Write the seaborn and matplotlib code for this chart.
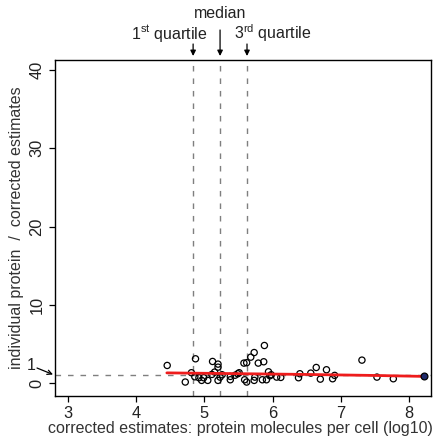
import matplotlib
matplotlib.use("Agg")
import matplotlib.pyplot as plt
import seaborn as sns
import pandas as pd
from matplotlib.transforms import blended_transform_factory

# ---- data ----
x_vals = [4.455, 4.72, 4.81, 4.87, 4.86, 4.92, 4.96, 4.99, 5.05, 5.11, 5.12, 5.15,
          5.20, 5.20, 5.20, 5.23, 5.26, 5.38, 5.38, 5.45, 5.49, 5.51, 5.59, 5.58,
          5.62, 5.62, 5.68, 5.73, 5.73, 5.74, 5.79, 5.85, 5.87, 5.88, 5.91, 5.94,
          5.96, 5.98, 6.06, 6.12, 6.38, 6.40, 6.56, 6.64, 6.70, 6.79, 6.88, 6.91,
          7.31, 7.53, 7.77]
y_vals = [2.25, 0.13, 1.32, 3.10, 0.80, 0.68, 0.34, 0.68, 0.34, 1.10, 2.76, 1.40,
          2.42, 2.03, 0.34, 0.76, 1.06, 0.42, 0.85, 1.00, 1.19, 1.32, 0.42, 2.55,
          2.60, 0.13, 3.31, 3.90, 0.34, 0.76, 2.55, 0.42, 2.72, 4.80, 0.42, 1.44,
          0.93, 1.06, 0.76, 0.72, 0.68, 1.19, 1.27, 1.99, 0.50, 1.70, 0.55, 0.98,
          2.93, 0.76, 0.55]
highlight_x = [8.22]
highlight_y = [0.85]

fit_x = [4.45, 5.5, 6.5, 7.5, 8.22]
fit_y = [1.30, 1.20, 1.10, 0.97, 0.85]

quartile_x = [4.835, 5.23, 5.625]   # 1st quartile, median, 3rd quartile
ref_y = 1

x_ticks = [3, 4, 5, 6, 7, 8]
y_ticks = [0, 10, 20, 30, 40]

xlabel = "corrected estimates: protein molecules per cell (log10)"
ylabel = "individual protein  /  corrected estimates"

# ---- style ----
sns.set_style("ticks")
plt.rcParams["font.family"] = ["Liberation Sans", "DejaVu Sans"]
plt.rcParams["mathtext.fontset"] = "custom"
plt.rcParams["mathtext.rm"] = "Liberation Sans"
plt.rcParams["mathtext.it"] = "Liberation Sans"

fig = plt.figure(figsize=(4.33, 4.47), dpi=100)
ax = fig.add_axes([0.127, 0.114, 0.868, 0.752])

df = pd.DataFrame({"x": x_vals, "y": y_vals})
dfh = pd.DataFrame({"x": highlight_x, "y": highlight_y})
dff = pd.DataFrame({"x": fit_x, "y": fit_y})

dash = (0, (4, 5))
for q in quartile_x:
    ax.axvline(q, color="#7f7f7f", lw=1, ls=dash, zorder=1)
ax.axhline(ref_y, color="#7f7f7f", lw=1, ls=dash, zorder=1)

sns.scatterplot(data=df, x="x", y="y", ax=ax, marker="o", s=20,
                facecolor="none", edgecolor="black", linewidth=0.9, zorder=3)
sns.lineplot(data=dff, x="x", y="y", ax=ax, color="#ee1c1c", lw=2, zorder=4,
             estimator=None, sort=False)
sns.scatterplot(data=dfh, x="x", y="y", ax=ax, marker="o", s=24,
                color="#1f2a6b", edgecolor="black", linewidth=0.9, zorder=5)

ax.set_xlim(2.81, 8.32)
ax.set_ylim(-1.66, 41.3)
ax.set_xticks(x_ticks)
ax.set_yticks(y_ticks)
ax.set_xticklabels([str(t) for t in x_ticks])
ax.set_yticklabels([str(t) for t in y_ticks], rotation=90, va="center")
ax.tick_params(axis="both", labelsize=11.8, length=4.5, width=0.9, pad=3,
               color="black", labelcolor="#222222")
ax.set_xlabel("")
ax.set_ylabel("")
for s in ax.spines.values():
    s.set_linewidth(1.0)
    s.set_color("black")

fs = 11.5
fig.text(240 / 433, 1 - 428 / 447, xlabel, ha="center", va="center",
         fontsize=fs, color="#333333")
fig.text(17 / 433, 1 - 228 / 447, ylabel, ha="center", va="center",
         rotation=90, fontsize=fs, color="#333333")

def ypix(p):
    return 1 - p / 447

bt = blended_transform_factory(ax.transData, fig.transFigure)
arrow_kw = dict(arrowstyle="-|>", color="black", lw=0.9,
                mutation_scale=8, shrinkA=0, shrinkB=0)

ax.annotate("", xy=(quartile_x[1], ypix(56)), xytext=(quartile_x[1], ypix(30)),
            xycoords=bt, textcoords=bt, arrowprops=arrow_kw,
            annotation_clip=False)
for q in (quartile_x[0], quartile_x[2]):
    ax.annotate("", xy=(q, ypix(56)), xytext=(q, ypix(44)),
                xycoords=bt, textcoords=bt, arrowprops=arrow_kw,
                annotation_clip=False)

fig.text(220 / 433, ypix(13), "median", ha="center", va="center",
         fontsize=fs, color="#222222")
fig.text(207 / 433, ypix(33), r"1$^{\rm st}$ quartile", ha="right", va="center",
         fontsize=fs, color="#222222")
fig.text(234 / 433, ypix(33), r"3$^{\rm rd}$ quartile", ha="left", va="center",
         fontsize=fs, color="#222222")

# "1" arrow on the left
fig.text(31 / 433, ypix(366), "1", ha="center", va="center",
         fontsize=fs, color="#222222")
ax.annotate("", xy=(53 / 433, ypix(374.5)), xycoords="figure fraction",
            xytext=(37 / 433, ypix(368)), textcoords="figure fraction",
            arrowprops=dict(arrowstyle="->", color="black", lw=0.9,
                            mutation_scale=8, shrinkA=0, shrinkB=0),
            annotation_clip=False)

fig.savefig("out.png", dpi=100)
